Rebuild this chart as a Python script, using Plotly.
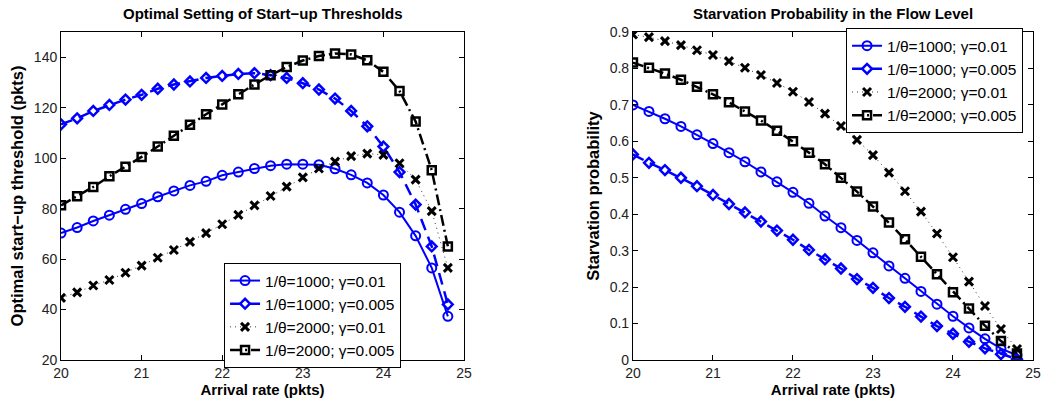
import plotly.graph_objects as go
from plotly.subplots import make_subplots

arrival = [20.0, 20.2, 20.4, 20.6, 20.8, 21.0, 21.2, 21.4, 21.6, 21.8, 22.0, 22.2, 22.4,
           22.6, 22.8, 23.0, 23.2, 23.4, 23.6, 23.8, 24.0, 24.2, 24.4, 24.6, 24.8]

series_names = ["1/θ=1000; γ=0.01", "1/θ=1000; γ=0.005", "1/θ=2000; γ=0.01", "1/θ=2000; γ=0.005"]

# Left: optimal start-up threshold (pkts)
thr_1000_001 = [70.3, 72.5, 75.1, 77.4, 79.7, 82.0, 84.7, 87.0, 89.2, 90.8, 93.2, 94.5, 95.9,
                97.0, 97.6, 97.6, 97.4, 95.8, 93.4, 90.2, 85.4, 78.6, 69.2, 56.5, 37.3]
thr_1000_0005 = [113.4, 115.8, 118.7, 121.1, 123.2, 125.1, 127.5, 129.2, 130.4, 131.8, 132.6, 133.4, 133.7,
                 132.9, 131.8, 129.7, 127.2, 123.6, 118.7, 112.6, 104.6, 94.5, 81.6, 65.0, 42.0]
thr_2000_001 = [44.6, 46.8, 49.5, 51.7, 54.6, 57.4, 60.5, 63.6, 66.8, 70.3, 73.8, 77.5, 81.3,
                85.0, 88.7, 92.4, 95.9, 98.6, 100.8, 101.8, 101.3, 98.0, 91.5, 79.0, 56.5]
thr_2000_0005 = [81.3, 84.9, 88.6, 92.8, 96.6, 100.5, 104.6, 108.9, 113.2, 117.4, 121.3, 125.3, 129.2,
                 132.9, 136.1, 138.7, 140.5, 141.5, 141.1, 138.8, 134.2, 126.6, 114.5, 95.2, 65.0]

# Right: starvation probability
sp_1000_001 = [0.700, 0.682, 0.662, 0.641, 0.618, 0.594, 0.569, 0.544, 0.516, 0.489, 0.460, 0.430, 0.395,
               0.363, 0.328, 0.294, 0.258, 0.224, 0.188, 0.153, 0.120, 0.088, 0.058, 0.031, 0.013]
sp_1000_0005 = [0.564, 0.541, 0.521, 0.500, 0.477, 0.453, 0.428, 0.405, 0.380, 0.355, 0.330, 0.302, 0.276,
                0.251, 0.222, 0.198, 0.170, 0.146, 0.119, 0.093, 0.072, 0.050, 0.032, 0.016, 0.002]
sp_2000_001 = [0.893, 0.886, 0.875, 0.864, 0.850, 0.837, 0.820, 0.802, 0.782, 0.760, 0.736, 0.708, 0.676,
               0.642, 0.604, 0.562, 0.514, 0.463, 0.407, 0.347, 0.282, 0.215, 0.148, 0.085, 0.030]
sp_2000_0005 = [0.816, 0.802, 0.786, 0.769, 0.750, 0.729, 0.707, 0.682, 0.657, 0.629, 0.600, 0.569, 0.537,
                0.500, 0.462, 0.421, 0.377, 0.331, 0.283, 0.235, 0.186, 0.141, 0.094, 0.052, 0.018]

x_ticks = [20, 21, 22, 23, 24, 25]
left_y_ticks = [20, 40, 60, 80, 100, 120, 140]
right_y_ticks = [0, 0.1, 0.2, 0.3, 0.4, 0.5, 0.6, 0.7, 0.8, 0.9]
right_y_text = ["0", "0.1", "0.2", "0.3", "0.4", "0.5", "0.6", "0.7", "0.8", "0.9"]

BLUE = "#0000ff"
BLACK = "#000000"
styles = [
    dict(line=dict(color=BLUE, width=2, dash="solid"),
         marker=dict(symbol="circle-open", size=9, color=BLUE, line=dict(width=2, color=BLUE))),
    dict(line=dict(color=BLUE, width=2.5, dash="12px,7px"),
         marker=dict(symbol="diamond-open", size=7.5, color=BLUE, line=dict(width=2.5, color=BLUE))),
    dict(line=dict(color="#333333", width=1, dash="1px,4px"),
         marker=dict(symbol="x-thin", size=8, color=BLACK, line=dict(width=3, color=BLACK))),
    dict(line=dict(color=BLACK, width=2.5, dash="11px,4px,2px,4px"),
         marker=dict(symbol="square-open", size=8, color=BLACK, line=dict(width=2.5, color=BLACK))),
]

fig = make_subplots(rows=1, cols=2)

left_data = [thr_1000_001, thr_1000_0005, thr_2000_001, thr_2000_0005]
right_data = [sp_1000_001, sp_1000_0005, sp_2000_001, sp_2000_0005]

for name, ys, st in zip(series_names, left_data, styles):
    fig.add_trace(go.Scatter(x=arrival, y=ys, name=name, mode="lines+markers",
                             line=st["line"], marker=st["marker"], legend="legend"), row=1, col=1)
for name, ys, st in zip(series_names, right_data, styles):
    fig.add_trace(go.Scatter(x=arrival, y=ys, name=name, mode="lines+markers",
                             line=st["line"], marker=st["marker"], legend="legend2"), row=1, col=2)

FONT = "Liberation Sans, Arial, Helvetica, sans-serif"
axis_common = dict(showline=True, linecolor="black", linewidth=1, mirror="ticks",
                   ticks="inside", ticklen=5, tickcolor="black", showgrid=False, zeroline=False,
                   automargin=False,
                   tickfont=dict(size=14, color="#222222", family=FONT))

fig.update_xaxes(axis_common)
fig.update_yaxes(axis_common)

XT = dict(size=15, family=FONT)
YT = dict(size=16.5, family=FONT)
legend_common = dict(xanchor="left", yanchor="top", bordercolor="black", borderwidth=1,
                     bgcolor="white", font=dict(size=15.5, family=FONT, color="black"),
                     tracegroupgap=0)

fig.update_layout(
    width=1045, height=402,
    margin=dict(l=0, r=0, t=0, b=0, autoexpand=False),
    paper_bgcolor="white", plot_bgcolor="white",
    font=dict(family=FONT, color="black"),
    showlegend=True,
    xaxis=dict(domain=[0.0584, 0.4440], range=[20, 25], tickvals=x_ticks,
               title=dict(text="<b>Arrival rate (pkts)</b>", font=XT, standoff=3)),
    yaxis=dict(domain=[0.1045, 0.9204], range=[20, 150], tickvals=left_y_ticks,
               title=dict(text="<b>Optimal start−up threshold (pkts)</b>", font=YT, standoff=6)),
    xaxis2=dict(domain=[0.6057, 0.9885], range=[20, 25], tickvals=x_ticks,
                title=dict(text="<b>Arrival rate (pkts)</b>", font=XT, standoff=3)),
    yaxis2=dict(domain=[0.1045, 0.9204], range=[0, 0.9], tickvals=right_y_ticks,
                ticktext=right_y_text,
                title=dict(text="<b>Starvation probability</b>", font=YT, standoff=5)),
    legend=dict(x=0.2144, y=0.3458, **legend_common),
    legend2=dict(x=0.8096, y=0.930, **legend_common),
    annotations=[
        dict(text="<b>Optimal Setting of Start−up Thresholds</b>", x=(0.0584 + 0.4440) / 2, y=1 - 14 / 402,
             xref="paper", yref="paper", showarrow=False, font=dict(size=15, family=FONT),
             xanchor="center", yanchor="middle"),
        dict(text="<b>Starvation Probability in the Flow Level</b>", x=(0.6057 + 0.9885) / 2, y=1 - 14 / 402,
             xref="paper", yref="paper", showarrow=False, font=dict(size=15, family=FONT),
             xanchor="center", yanchor="middle"),
    ],
)

fig.write_html("out.html")
